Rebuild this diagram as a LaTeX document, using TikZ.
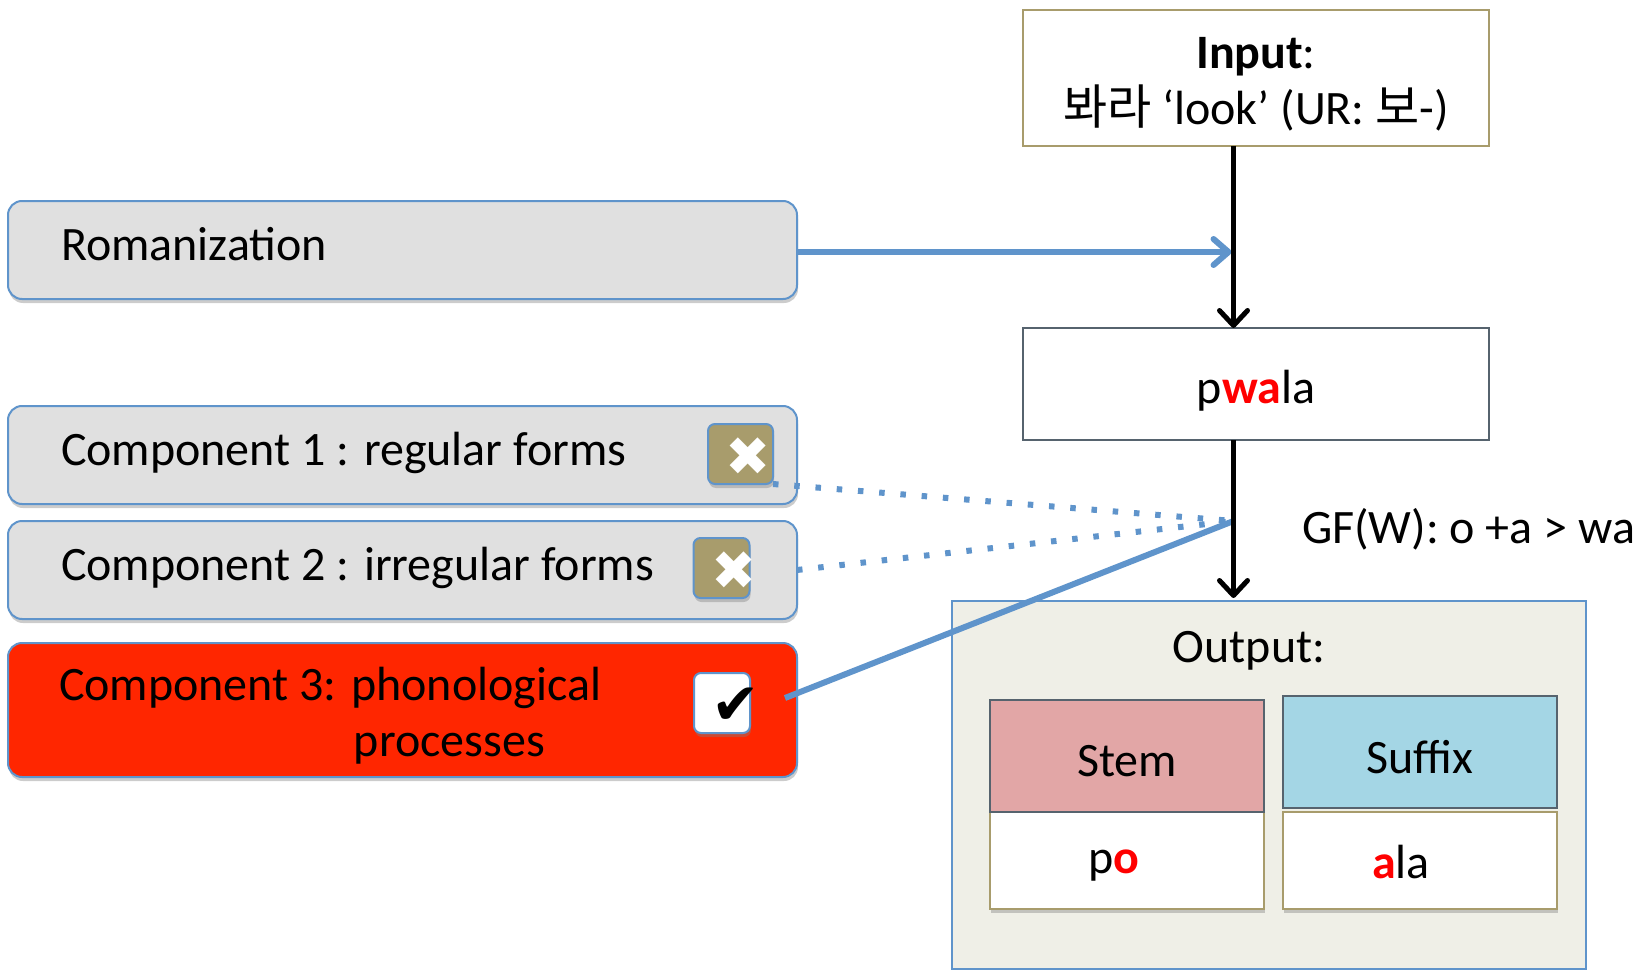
\documentclass[tikz,border=0pt]{standalone}
\usepackage{fontspec}
\setmainfont{Carlito}
\newfontfamily\krfont{Noto Sans CJK KR}
\newfontfamily\symfont{DejaVu Sans}
\usetikzlibrary{shadows,arrows.meta}
\definecolor{boxblue}{HTML}{5F94CB}
\definecolor{boxgrey}{HTML}{E0E0E0}
\definecolor{boxred}{HTML}{FF2600}
\definecolor{boxolive}{HTML}{A89C6C}
\definecolor{boxslate}{HTML}{56636E}
\definecolor{outbg}{HTML}{EFEFE7}
\definecolor{stemfill}{HTML}{E2A6A6}
\definecolor{suffixfill}{HTML}{A4D6E5}
\newcommand{\hl}[1]{\textcolor{red}{\textbf{#1}}}
\begin{document}
\begin{tikzpicture}[
x=1pt,y=-1pt,
every node/.style={font=\fontsize{48}{56}\selectfont,outer sep=0pt},
shadowed/.style={drop shadow={shadow xshift=1pt,shadow yshift=-4pt,opacity=.4}},
compbox/.style={
  draw=boxblue,
  line width=2pt,
  fill=boxgrey,
  rounded corners=14pt,
  minimum width=789pt,
  text width=683pt,
  execute at begin node={\spaceskip=0pt\xspaceskip=0pt\relax},
  shadowed
  },
markbox/.style={
  draw=boxblue,
  line width=2pt,
  fill=boxolive,
  rounded corners=7pt,
  text=white,
  minimum height=60pt,
  inner sep=0pt,
  text height=42pt,
  text depth=0pt,
  font=\symfont\fontsize{54}{54}\selectfont,
  shadowed
  },
flatbox/.style={draw,line width=2pt,minimum width=466pt,align=center},
cellbox/.style={draw,line width=2.5pt,minimum width=274pt,inner sep=0pt},
flow/.style={line width=5pt,-{Straight Barb[length=15pt,width=28pt,round]}},
feed/.style={draw=boxblue,line width=6pt}
]
\useasboundingbox (0,0) rectangle (1642,971);
\node[flatbox,draw=boxolive,minimum height=136pt,text height=94pt,text depth=0pt] (input) at (1256,78)
  {\textbf{Input}:\\{\krfont 봐라} ‘look’ (UR: {\krfont 보}-)};
\node[flatbox,draw=boxslate,minimum height=112pt,text height=39pt,text depth=0pt] (pwala) at (1256,384)
  {p\hl{wa}la};
\node[compbox,minimum height=98pt,text height=20pt,text depth=0pt] (roman) at (402.5,250) {Romanization};
\foreach \Num/\Ypos/\Xpos/\Wbox/\Shift/\Label in {1/455/740.5/65/16/Component 1 : regular forms,2/570/721.5/56/26/Component 2 : irregular forms}{
  \node[compbox,minimum height=98pt,text height=20pt,text depth=0pt] (comp\Num) at (402.5,\Ypos) {\Label};
  \node[markbox,minimum width=\Wbox pt] (mark\Num) at (\Xpos,\Ypos-\Num*1-0) {\hspace{\Shift pt}\makebox[0pt]{\char"2716}};
}
\node[compbox,fill=boxred,minimum height=134pt,text height=0pt,text depth=20pt] (comp3) at (402.5,710)
  {\hspace{-2pt}Component 3: phonological\\\hspace{293pt}processes};
\node[markbox,fill=white,text=black,minimum width=56pt,font=\symfont\fontsize{58}{58}\selectfont] (mark3) at (722,703) {\hspace{28pt}\makebox[0pt]{\char"2714}};
% output block
\node[draw=boxblue,line width=2pt,fill=outbg,minimum width=634pt,minimum height=368pt] (output) at (1269,785) {};
\node[anchor=base] (outlabel) at (1249,662) {Output:};
\node[cellbox,draw=boxolive,fill=white,minimum height=97pt,text height=25pt,text depth=0pt,shadowed] (po) at (1127,860.5) {p\hl{o}\kern26pt};
\node[cellbox,draw=boxolive,fill=white,minimum height=97pt,text height=35pt,text depth=0pt,shadowed] (ala) at (1420,860.5) {\hl{a}la\kern38pt};
\node[cellbox,draw=boxslate,fill=stemfill,minimum height=112pt,text height=40pt,text depth=0pt] (stem) at (1127,756) {Stem};
\node[cellbox,draw=boxslate,fill=suffixfill,minimum height=112pt,text height=42pt,text depth=0pt] (suffix) at (1420,752) {Suffix};
\node[anchor=base west,inner sep=0pt] (gfw) at (1302,543) {GF(W): o +a > wa};
\coordinate (join) at (1233.5,521);
\coordinate (feedstart) at (785,698);
\draw[feed,dash pattern=on 5.5pt off 15.8pt] (mark1.south east) -- (join);
\draw[feed,dash pattern=on 5.5pt off 15.8pt] (comp2.east) -- (join);
\draw[feed] (feedstart) -- (join);
\draw[feed,shorten >=2pt,-{Straight Barb[length=15pt,width=26pt,round]}] ([yshift=-2pt]roman.east) -- ([yshift=-2pt]roman.east -| join);
\draw[flow] (input.south -| join) -- (pwala.north -| join);
\draw[flow,shorten >=3pt] (pwala.south -| join) -- (output.north -| join);
\end{tikzpicture}
\end{document}
